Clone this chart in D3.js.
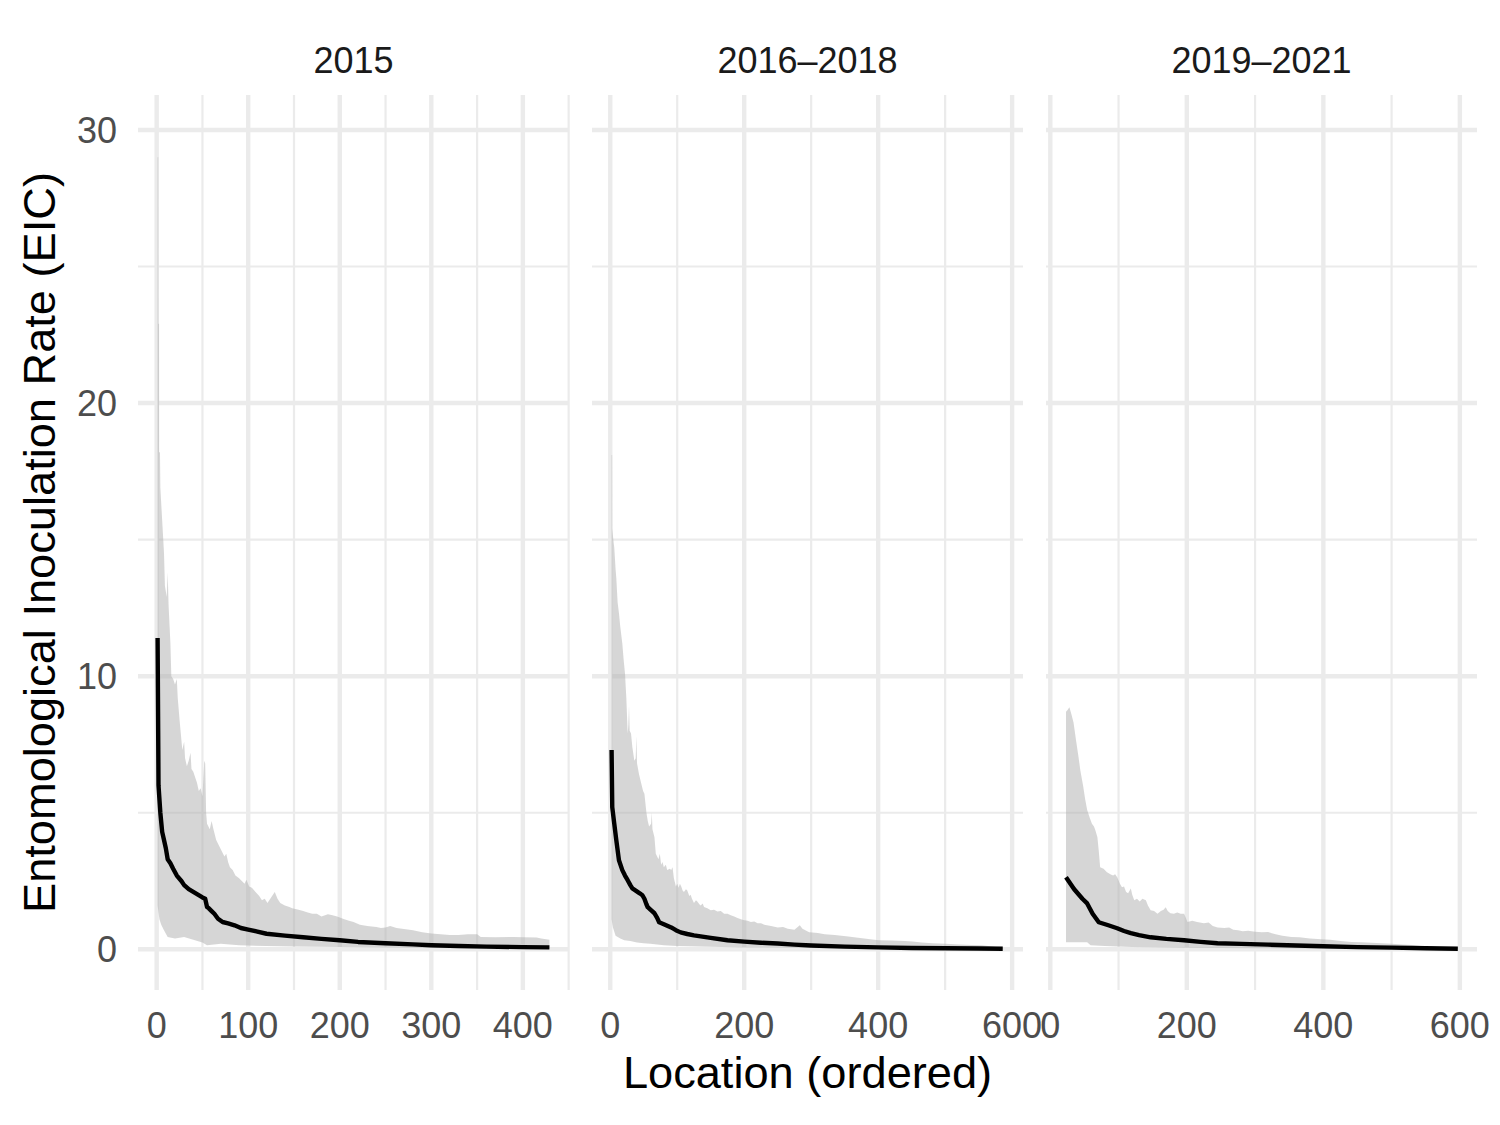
<!DOCTYPE html>
<html>
<head>
<meta charset="utf-8">
<script src="https://cdn.jsdelivr.net/npm/d3@7/dist/d3.min.js"></script>
<style>
  body { margin: 0; background: #fff; }
  text { font-family: "Liberation Sans", Arial, Helvetica, sans-serif; }
</style>
</head>
<body>
<svg id="chart" width="1500" height="1125"></svg>
<script>
// ---------- DATA ----------
const panelLabels = ["2015", "2016\u20132018", "2019\u20132021"];
const yTicks = [0, 10, 20, 30];
const xTicks2015 = [0, 100, 200, 300, 400];
const xTicks2016 = [0, 200, 400, 600];
const xTicks2019 = [0, 200, 400, 600];
const xLimits2015 = [1, 429];
const xLimits2016 = [2, 587];
const xLimits2019 = [22.4, 596.4];

// [location, EIR]
const upper2015 = [[1,29.0],[1.7,29.0],[1.8,22.9],[2.6,22.9],[2.7,18.2],[3.6,18.2],[4,16.9],[6,15.7],[8,14.5],[9,13.3],[11,12.9],[12,13.8],[13,12.6],[15,11.2],[16,10.0],[18,9.9],[20,9.7],[22,9.9],[23,9.2],[25,8.4],[28,7.3],[30,7.6],[31,7.0],[33,6.7],[35,6.9],[37,7.2],[38,6.6],[40,6.5],[42,6.3],[44,6.1],[46,5.8],[48,5.9],[50,5.6],[52,6.9],[53,6.8],[54,5.0],[55,4.6],[58,4.4],[60,4.7],[62,4.4],[65,4.0],[68,3.8],[71,3.6],[74,3.4],[76,3.5],[78,3.2],[80,3.0],[83,2.9],[86,2.7],[90,2.6],[93,2.5],[96,2.4],[98,2.55],[101,2.3],[104,2.25],[108,2.1],[112,1.95],[115,1.8],[118,1.85],[121,1.7],[125,1.9],[129,2.1],[132,1.85],[135,1.7],[140,1.6],[145,1.55],[148,1.5],[155,1.45],[160,1.4],[165,1.35],[170,1.3],[175,1.3],[180,1.2],[187,1.28],[192,1.25],[197,1.2],[205,1.1],[210,1.05],[215,1.0],[222,0.9],[230,0.85],[240,0.82],[245,0.78],[250,0.8],[255,0.85],[262,0.78],[270,0.74],[280,0.7],[290,0.62],[300,0.58],[310,0.55],[320,0.52],[330,0.52],[340,0.55],[350,0.55],[354,0.45],[370,0.44],[390,0.45],[400,0.44],[415,0.43],[420,0.4],[429,0.35]];
const lower2015 = [[1,1.6],[3,1.1],[5,0.9],[8,0.7],[12,0.45],[20,0.4],[30,0.45],[40,0.35],[50,0.25],[55,0.15],[70,0.2],[90,0.15],[120,0.12],[150,0.1],[200,0.08],[300,0.05],[429,0.03]];
const median2015 = [[1,11.4],[2,6.0],[4,5.0],[6,4.3],[8,4.0],[10,3.7],[12,3.3],[15,3.15],[18,2.95],[22,2.7],[27,2.5],[30,2.35],[35,2.2],[40,2.1],[45,2.0],[50,1.9],[53,1.85],[55,1.55],[57,1.5],[60,1.4],[63,1.3],[67,1.12],[72,1.0],[78,0.95],[85,0.88],[92,0.78],[100,0.72],[110,0.65],[120,0.57],[140,0.5],[160,0.44],[180,0.38],[200,0.33],[220,0.27],[250,0.22],[280,0.18],[300,0.15],[330,0.12],[360,0.1],[400,0.08],[429,0.07]];

const upper2016 = [[2,18.1],[2.8,18.1],[3,15.4],[5,14.9],[6,14.7],[8,13.9],[9,13.6],[11,12.7],[13,12.3],[15,11.8],[18,11.2],[20,10.6],[22,10.1],[24,9.2],[26,7.9],[27,8.2],[28,8.9],[29,8.0],[31,7.9],[33,7.4],[36,6.9],[38,7.0],[39,7.8],[40,6.8],[43,6.4],[46,6.1],[49,5.8],[51,5.7],[54,5.0],[56,4.7],[58,4.5],[61,4.6],[62,5.0],[63,4.4],[66,4.1],[68,3.5],[70,3.4],[72,3.3],[74,3.5],[76,3.1],[78,3.2],[80,3.0],[83,3.1],[85,2.9],[89,2.95],[91,2.9],[93,3.0],[95,2.6],[98,2.3],[100,2.4],[102,2.25],[104,2.4],[106,2.3],[108,2.15],[110,2.1],[113,2.2],[115,2.15],[118,1.95],[120,2.0],[122,1.85],[125,1.7],[128,1.8],[130,1.75],[133,1.65],[135,1.6],[138,1.68],[140,1.55],[145,1.5],[150,1.43],[155,1.45],[160,1.38],[165,1.4],[170,1.3],[175,1.3],[180,1.25],[185,1.2],[190,1.15],[195,1.1],[200,1.06],[205,1.05],[210,1.0],[215,1.02],[220,0.95],[225,0.95],[230,0.9],[240,0.85],[250,0.8],[258,0.82],[265,0.75],[275,0.72],[283,0.88],[287,0.75],[297,0.62],[310,0.6],[320,0.55],[335,0.52],[352,0.48],[370,0.42],[385,0.38],[401,0.33],[420,0.32],[440,0.3],[451,0.29],[465,0.25],[481,0.22],[500,0.2],[520,0.18],[540,0.16],[555,0.15],[570,0.1],[586,0.05]];
const lower2016 = [[2,1.1],[4,0.8],[8,0.5],[15,0.4],[21,0.33],[30,0.3],[40,0.25],[50,0.22],[60,0.2],[80,0.15],[100,0.12],[150,0.09],[200,0.07],[300,0.05],[400,0.03],[500,0.02],[586,0.01]];
const median2016 = [[2,7.3],[3,5.2],[6,4.6],[9,4.0],[13,3.26],[18,2.9],[22,2.7],[26,2.53],[30,2.35],[33,2.23],[38,2.15],[44,2.05],[48,1.98],[51,1.85],[54,1.65],[56,1.54],[60,1.45],[66,1.32],[70,1.15],[73,0.99],[80,0.92],[91,0.8],[98,0.7],[105,0.62],[115,0.56],[125,0.51],[150,0.42],[175,0.33],[200,0.28],[225,0.24],[250,0.21],[275,0.17],[300,0.14],[350,0.1],[400,0.07],[450,0.05],[500,0.04],[550,0.03],[586,0.02]];

const upper2019 = [[23,8.7],[25,8.75],[28,8.86],[31,8.6],[34,8.3],[38,7.6],[41,7.1],[44,6.55],[48,6.0],[51,5.5],[54,5.1],[58,4.8],[61,4.6],[64,4.5],[66,4.36],[69,4.1],[71,3.6],[73,3.0],[78,2.95],[83,2.82],[88,2.75],[92,2.7],[95,2.75],[98,2.64],[102,2.4],[105,2.27],[108,2.3],[111,2.1],[114,2.05],[118,2.23],[120,2.0],[123,1.8],[127,1.85],[131,1.75],[135,1.85],[140,1.8],[143,1.6],[147,1.43],[152,1.4],[157,1.3],[162,1.4],[166,1.45],[169,1.54],[172,1.4],[176,1.32],[181,1.3],[186,1.35],[191,1.3],[196,1.3],[201,1.0],[208,1.05],[215,1.0],[225,0.95],[232,0.98],[238,0.85],[245,0.8],[255,0.78],[262,0.8],[268,0.72],[275,0.7],[282,0.66],[290,0.68],[300,0.64],[310,0.62],[319,0.63],[330,0.55],[340,0.5],[353,0.45],[365,0.44],[380,0.4],[397,0.37],[410,0.35],[425,0.3],[441,0.27],[455,0.26],[470,0.24],[485,0.22],[500,0.2],[515,0.18],[530,0.16],[544,0.12],[560,0.1],[575,0.07],[597,0.04]];
const lower2019 = [[23,0.26],[54,0.26],[59,0.15],[80,0.12],[120,0.08],[200,0.06],[300,0.04],[400,0.03],[500,0.02],[597,0.01]];
const median2019 = [[23,2.64],[35,2.2],[47,1.85],[54,1.68],[62,1.3],[71,0.99],[85,0.88],[98,0.77],[108,0.67],[118,0.59],[130,0.52],[147,0.44],[170,0.38],[196,0.33],[220,0.27],[245,0.22],[280,0.2],[319,0.17],[360,0.14],[400,0.11],[450,0.08],[500,0.06],[550,0.04],[597,0.02]];

const yTitle = "Entomological Inoculation Rate (EIC)";
const xTitle = "Location (ordered)";

// ---------- LAYOUT ----------
const W = 1500, H = 1125;
const panelTop = 95, panelBottom = 990;
const panelLefts = [138, 592, 1046];
const panelWidth = 431;
const yDomain = [-1.49, 31.28];

const panels = [
  {label: panelLabels[0], upper: upper2015, lower: lower2015, median: median2015, ticks: xTicks2015, lim: xLimits2015},
  {label: panelLabels[1], upper: upper2016, lower: lower2016, median: median2016, ticks: xTicks2016, lim: xLimits2016},
  {label: panelLabels[2], upper: upper2019, lower: lower2019, median: median2019, ticks: xTicks2019, lim: xLimits2019}
];

const svg = d3.select("#chart");
svg.append("rect").attr("width", W).attr("height", H).attr("fill", "#fff");

const y = d3.scaleLinear().domain(yDomain).range([panelBottom, panelTop]);
const yMinor = [5, 15, 25];

panels.forEach((p, i) => {
  const x0 = panelLefts[i], x1 = x0 + panelWidth;
  const span = p.lim[1] - p.lim[0];
  const x = d3.scaleLinear()
    .domain([p.lim[0] - 0.05 * span, p.lim[1] + 0.05 * span])
    .range([x0, x1]);
  const g = svg.append("g");

  const minorX = [];
  for (let k = 0; k < p.ticks.length - 1; k++) minorX.push((p.ticks[k] + p.ticks[k + 1]) / 2);
  const step = p.ticks[1] - p.ticks[0];
  minorX.push(p.ticks[p.ticks.length - 1] + step / 2);
  minorX.unshift(p.ticks[0] - step / 2);
  const xd = x.domain();
  g.selectAll(".mx").data(minorX.filter(v => v >= xd[0] && v <= xd[1])).enter().append("line")
    .attr("x1", d => x(d)).attr("x2", d => x(d))
    .attr("y1", panelTop).attr("y2", panelBottom)
    .attr("stroke", "#ebebeb").attr("stroke-width", 2.2);
  g.selectAll(".my").data(yMinor).enter().append("line")
    .attr("x1", x0).attr("x2", x1)
    .attr("y1", d => y(d)).attr("y2", d => y(d))
    .attr("stroke", "#ebebeb").attr("stroke-width", 2.2);
  g.selectAll(".Mx").data(p.ticks.filter(v => v >= xd[0] && v <= xd[1])).enter().append("line")
    .attr("x1", d => x(d)).attr("x2", d => x(d))
    .attr("y1", panelTop).attr("y2", panelBottom)
    .attr("stroke", "#ebebeb").attr("stroke-width", 4.4);
  g.selectAll(".My").data(yTicks).enter().append("line")
    .attr("x1", x0).attr("x2", x1)
    .attr("y1", d => y(d)).attr("y2", d => y(d))
    .attr("stroke", "#ebebeb").attr("stroke-width", 4.4);

  const lineGen = d3.line().x(d => x(d[0])).y(d => y(d[1]));
  const poly = p.upper.concat(p.lower.slice().reverse());
  g.append("path")
    .attr("d", lineGen(poly) + "Z")
    .attr("fill", "#adadad").attr("fill-opacity", 0.5).attr("stroke", "none");

  g.append("path")
    .attr("d", lineGen(p.median))
    .attr("fill", "none").attr("stroke", "#000").attr("stroke-width", 4.4)
    .attr("stroke-linejoin", "round");

  svg.append("text")
    .attr("x", (x0 + x1) / 2).attr("y", 73)
    .attr("text-anchor", "middle").attr("font-size", 36).attr("fill", "#1a1a1a")
    .text(p.label);

  svg.selectAll(null).data(p.ticks.filter(v => v >= xd[0] && v <= xd[1])).enter().append("text")
    .attr("x", d => x(d)).attr("y", 1038)
    .attr("text-anchor", "middle").attr("font-size", 36).attr("fill", "#4d4d4d")
    .text(d => d);
});

svg.selectAll(null).data(yTicks).enter().append("text")
  .attr("x", 117).attr("y", d => y(d)).attr("dy", "0.36em")
  .attr("text-anchor", "end").attr("font-size", 36).attr("fill", "#4d4d4d")
  .text(d => d);

svg.append("text")
  .attr("transform", `translate(55, ${(panelTop + panelBottom) / 2}) rotate(-90)`)
  .attr("text-anchor", "middle").attr("font-size", 45.2).attr("fill", "#000")
  .text(yTitle);
svg.append("text")
  .attr("x", (panelLefts[0] + panelLefts[2] + panelWidth) / 2).attr("y", 1088)
  .attr("text-anchor", "middle").attr("font-size", 45.2).attr("fill", "#000")
  .text(xTitle);
</script>
</body>
</html>
